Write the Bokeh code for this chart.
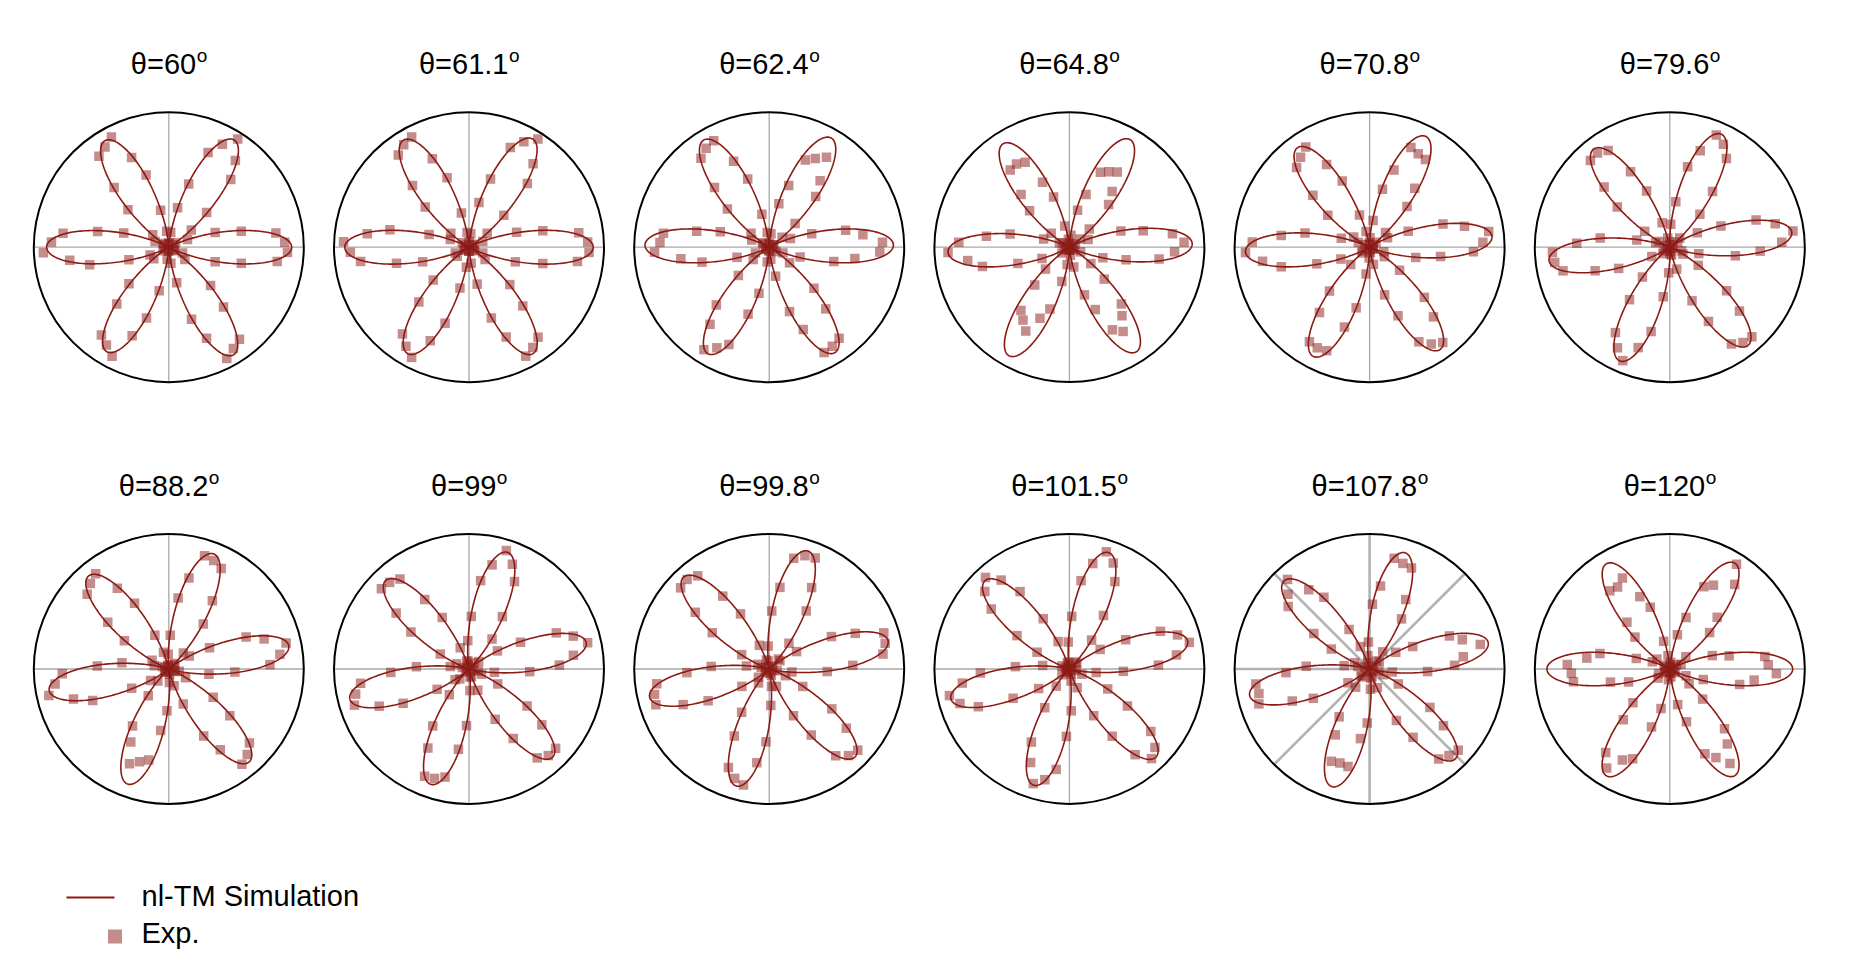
import numpy as np
from bokeh.plotting import figure
from bokeh.models import Range1d
from bokeh.core.properties import value
from bokeh.embed import file_html
from bokeh.resources import INLINE

# ---------------- data ----------------
theta_labels = ["60", "61.1", "62.4", "64.8", "70.8", "79.6",
                "88.2", "99", "99.8", "101.5", "107.8", "120"]

# simulation: orientation (deg) and peak intensity (relative) of the six lobes
sim_lobe_angles = [
    [0, 58.6, 121, 180, 239.3, 301],
    [0, 59.5, 121.5, 180, 240, 301],
    [1, 60.4, 121.5, 179, 240, 302],
    [1.6, 60.6, 122.7, 182.3, 240.9, 302.7],
    [5, 63, 126, 182, 242.7, 304.5],
    [7, 65.5, 127.9, 186.3, 246.2, 308.5],
    [11, 68.6, 130.8, 190.2, 250.3, 310.8],
    [12.8, 71.7, 133.3, 194.2, 251.6, 313.4],
    [13.4, 71.8, 133, 193.3, 254.3, 314.2],
    [13.4, 71.3, 133.8, 194.2, 253, 314.4],
    [12.6, 73, 134.2, 192.5, 252.2, 313.6],
    [0, 58.4, 121.1, 180, 239.3, 301.4],
]
sim_lobe_peaks = [
    [0.91, 0.93, 0.92, 0.905, 0.90, 0.93],
    [0.92, 0.93, 0.93, 0.92, 0.91, 0.92],
    [0.92, 0.93, 0.93, 0.92, 0.91, 0.92],
    [0.91, 0.915, 0.91, 0.90, 0.92, 0.92],
    [0.91, 0.92, 0.91, 0.92, 0.91, 0.92],
    [0.91, 0.92, 0.92, 0.90, 0.92, 0.93],
    [0.905, 0.915, 0.91, 0.90, 0.905, 0.91],
    [0.89, 0.91, 0.90, 0.91, 0.90, 0.90],
    [0.905, 0.92, 0.93, 0.91, 0.90, 0.91],
    [0.90, 0.91, 0.905, 0.905, 0.90, 0.915],
    [0.90, 0.90, 0.91, 0.91, 0.915, 0.92],
    [0.91, 0.92, 0.91, 0.91, 0.92, 0.925],
]

# experiment: polarization angles (deg) and measured intensities
exp_angles = [2.5 + 5 * k for k in range(72)]

exp_60 = [0.86, 0.80, 0.55, 0.36, 0.15, 0.04,
          0.06, 0.21, 0.38, 0.68, 0.81, 0.95, 0.86, 0.76, 0.49, 0.30, 0.11, 0.03,
          0.03, 0.12, 0.28, 0.56, 0.72, 0.92, 0.88, 0.85, 0.60, 0.41, 0.15, 0.05,
          0.04, 0.11, 0.35, 0.54, 0.79, 0.87, 0.93, 0.74, 0.60, 0.31, 0.15, 0.03,
          0.05, 0.14, 0.40, 0.57, 0.82, 0.86, 0.91, 0.71, 0.55, 0.33, 0.09, 0.03,
          0.02, 0.12, 0.27, 0.56, 0.73, 0.93, 0.89, 0.86, 0.60, 0.42, 0.15, 0.05,
          0.04, 0.11, 0.36, 0.55, 0.81, 0.88]
exp_61_1 = [0.88, 0.82, 0.56, 0.37, 0.11, 0.03,
            0.04, 0.17, 0.35, 0.64, 0.78, 0.95, 0.88, 0.80, 0.53, 0.34, 0.10, 0.04,
            0.02, 0.11, 0.26, 0.54, 0.71, 0.92, 0.90, 0.86, 0.62, 0.44, 0.17, 0.06,
            0.03, 0.15, 0.31, 0.60, 0.76, 0.93, 0.88, 0.81, 0.55, 0.36, 0.11, 0.04,
            0.04, 0.11, 0.36, 0.55, 0.81, 0.87, 0.92, 0.75, 0.59, 0.31, 0.15, 0.03,
            0.03, 0.12, 0.28, 0.55, 0.72, 0.91, 0.88, 0.84, 0.59, 0.41, 0.15, 0.05,
            0.04, 0.11, 0.36, 0.56, 0.81, 0.89]
exp_62_4 = [0.84, 0.70, 0.58, 0.33, 0.17, 0.04,
            0.03, 0.12, 0.26, 0.51, 0.62, 0.79, 0.74, 0.70, 0.48, 0.33, 0.10, 0.03,
            0.02, 0.11, 0.25, 0.53, 0.69, 0.89, 0.87, 0.83, 0.60, 0.42, 0.17, 0.06,
            0.05, 0.14, 0.38, 0.55, 0.79, 0.81, 0.85, 0.66, 0.51, 0.25, 0.11, 0.03,
            0.03, 0.15, 0.31, 0.58, 0.72, 0.90, 0.84, 0.78, 0.52, 0.35, 0.11, 0.03,
            0.02, 0.09, 0.22, 0.50, 0.66, 0.88, 0.87, 0.85, 0.62, 0.45, 0.19, 0.06,
            0.03, 0.11, 0.24, 0.49, 0.64, 0.82]
exp_64_8 = [0.85, 0.77, 0.56, 0.40, 0.15, 0.05,
            0.03, 0.10, 0.20, 0.43, 0.52, 0.66, 0.63, 0.60, 0.41, 0.28, 0.09, 0.03,
            0.02,
            0.06, 0.16, 0.39, 0.52, 0.71, 0.73, 0.72, 0.53, 0.40, 0.17, 0.06,
            0.02, 0.08, 0.20, 0.45, 0.62, 0.82, 0.90, 0.76, 0.66, 0.40, 0.22, 0.04,
            0.03, 0.07, 0.24, 0.38, 0.59, 0.64, 0.70, 0.57, 0.48, 0.26, 0.13, 0.02,
            0.02, 0.06, 0.15, 0.37, 0.50, 0.69, 0.74, 0.64, 0.57, 0.35, 0.20, 0.04,
            0.02, 0.09, 0.26, 0.43, 0.67, 0.78]
exp_70_8 = [0.84, 0.89, 0.72, 0.57, 0.31, 0.15, 0.03,
            0.06, 0.16, 0.41, 0.55, 0.77, 0.78, 0.80, 0.60, 0.44, 0.20, 0.07, 0.02,
            0.03, 0.12, 0.25, 0.53, 0.69, 0.88, 0.84, 0.80, 0.57, 0.39, 0.14, 0.04,
            0.09, 0.22, 0.49, 0.66, 0.87, 0.92, 0.80, 0.67, 0.41, 0.23, 0.06,
            0.02,
            0.07, 0.19, 0.44, 0.61, 0.83, 0.84, 0.83, 0.62, 0.46, 0.20, 0.08, 0.02,
            0.04, 0.13, 0.37, 0.55, 0.79, 0.85, 0.89, 0.70, 0.55, 0.28, 0.13, 0.03,
            0.03, 0.11, 0.35, 0.53, 0.77]
exp_79_6 = [0.83, 0.92, 0.80, 0.67, 0.41, 0.23, 0.07,
            0.03, 0.10, 0.33, 0.52, 0.78, 0.86, 0.90, 0.75, 0.61, 0.34, 0.17, 0.04,
            0.02,
            0.07, 0.19, 0.45, 0.63, 0.85, 0.88, 0.87, 0.66, 0.49, 0.22, 0.09,
            0.03,
            0.11, 0.25, 0.52, 0.69, 0.87, 0.86, 0.81, 0.58, 0.41, 0.15, 0.05,
            0.02,
            0.07, 0.30, 0.49, 0.75, 0.84, 0.91, 0.78, 0.64, 0.37, 0.19, 0.05,
            0.03,
            0.06, 0.17, 0.43, 0.62, 0.85, 0.89, 0.90, 0.70, 0.53, 0.25, 0.11,
            0.02, 0.09, 0.22, 0.49, 0.67]
exp_88_2 = [0.75, 0.83, 0.89, 0.74, 0.62, 0.34, 0.18, 0.05,
            0.06, 0.16, 0.42, 0.60, 0.84, 0.87, 0.88, 0.69, 0.53, 0.25, 0.11, 0.02,
            0.03, 0.13, 0.27, 0.55, 0.71, 0.89, 0.86, 0.82, 0.57, 0.39, 0.14, 0.05,
            0.03, 0.11, 0.35, 0.53, 0.79, 0.85, 0.91, 0.74, 0.61, 0.31, 0.16, 0.04,
            0.03, 0.12, 0.25, 0.50, 0.61, 0.76, 0.72, 0.69, 0.46, 0.31, 0.10, 0.04,
            0.02, 0.13, 0.28, 0.56, 0.71, 0.89, 0.86, 0.81, 0.57, 0.39, 0.14, 0.05,
            0.03, 0.08, 0.30, 0.49]
exp_99 = [0.67, 0.78, 0.90, 0.81, 0.70, 0.43, 0.25, 0.09, 0.02,
          0.06, 0.28, 0.46, 0.73, 0.84, 0.92, 0.79, 0.66, 0.39, 0.21, 0.06,
          0.03,
          0.06, 0.17, 0.43, 0.61, 0.84, 0.87, 0.88, 0.68, 0.51, 0.24, 0.10,
          0.02,
          0.05, 0.14, 0.39, 0.58, 0.81, 0.86, 0.89, 0.72, 0.55, 0.28, 0.13, 0.03,
          0.10, 0.24, 0.50, 0.66, 0.86, 0.85, 0.82, 0.60, 0.42, 0.16, 0.06,
          0.02,
          0.06, 0.17, 0.42, 0.61, 0.83, 0.87, 0.87, 0.68, 0.51, 0.24, 0.10,
          0.03,
          0.07, 0.19, 0.45]
exp_99_8 = [0.62, 0.85, 0.88, 0.89, 0.69, 0.52, 0.24, 0.10, 0.03,
            0.10, 0.24, 0.51, 0.68, 0.89, 0.88, 0.84, 0.61, 0.43, 0.17, 0.06,
            0.02,
            0.07, 0.19, 0.46, 0.64, 0.87, 0.90, 0.89, 0.69, 0.50, 0.23, 0.09,
            0.03,
            0.06, 0.17, 0.43, 0.61, 0.84, 0.87, 0.88, 0.69, 0.51, 0.24, 0.10, 0.02,
            0.04, 0.13, 0.38, 0.56, 0.79, 0.85, 0.88, 0.70, 0.54, 0.27, 0.13, 0.03,
            0.05, 0.14, 0.39, 0.58, 0.81, 0.87, 0.89, 0.72, 0.55, 0.28, 0.13, 0.03,
            0.06, 0.17, 0.43]
exp_101_5 = [0.66, 0.80, 0.91, 0.84, 0.73, 0.47, 0.27, 0.07, 0.02,
             0.07, 0.27, 0.47, 0.73, 0.85, 0.91, 0.80, 0.66, 0.39, 0.20, 0.05,
             0.03,
             0.05, 0.22, 0.42, 0.68, 0.83, 0.92, 0.85, 0.73, 0.46, 0.27, 0.06,
             0.02,
             0.03, 0.20, 0.40, 0.66, 0.80, 0.91, 0.85, 0.73, 0.47, 0.27, 0.07, 0.03,
             0.03, 0.16, 0.34, 0.61, 0.75, 0.89, 0.84, 0.75, 0.50, 0.31, 0.09, 0.02,
             0.04, 0.15, 0.39, 0.59, 0.80, 0.90, 0.86, 0.76, 0.51, 0.32, 0.10, 0.02,
             0.05, 0.20, 0.40]
exp_107_8 = [0.63, 0.70, 0.84, 0.72, 0.64, 0.36, 0.23, 0.09, 0.03,
             0.08, 0.16, 0.44, 0.58, 0.81, 0.82, 0.84, 0.62, 0.48, 0.20, 0.10, 0.03,
             0.05, 0.18, 0.33, 0.63, 0.74, 0.90, 0.82, 0.76, 0.49, 0.32, 0.12, 0.04,
             0.09, 0.19, 0.47, 0.62, 0.85, 0.84, 0.86, 0.62, 0.47, 0.19, 0.08,
             0.03,
             0.08, 0.17, 0.42, 0.55, 0.74, 0.73, 0.74, 0.52, 0.40, 0.15, 0.07,
             0.02,
             0.06, 0.15, 0.43, 0.60, 0.84, 0.87, 0.89, 0.69, 0.53, 0.24, 0.11, 0.03,
             0.07, 0.17, 0.43]
exp_120 = [0.73, 0.71, 0.45, 0.33, 0.09, 0.03,
           0.06, 0.15, 0.40, 0.52, 0.79, 0.92, 0.70, 0.66, 0.40, 0.26, 0.05, 0.02,
           0.03, 0.10, 0.21, 0.48, 0.58, 0.76, 0.72, 0.73, 0.47, 0.35, 0.12, 0.05,
           0.03, 0.14, 0.26, 0.53, 0.62, 0.76, 0.73, 0.72, 0.45, 0.32, 0.09, 0.04,
           0.04, 0.11, 0.37, 0.51, 0.78, 0.87, 0.76, 0.72, 0.45, 0.30, 0.08, 0.02,
           0.03, 0.06, 0.27, 0.41, 0.68, 0.74, 0.83, 0.70, 0.60, 0.33, 0.18, 0.05,
           0.03, 0.13, 0.26, 0.53, 0.63, 0.79]

exp_series = [exp_60, exp_61_1, exp_62_4, exp_64_8, exp_70_8, exp_79_6,
              exp_88_2, exp_99, exp_99_8, exp_101_5, exp_107_8, exp_120]

legend_labels = ["nl-TM Simulation", "Exp."]

# ---------------- layout / style ----------------
W, H = 1846, 960
R = 135.0
COL_X = [168.3 + 300.2 * c for c in range(6)]
ROW_Y = [246.7, 668.5]
LINE_COLOR = "#8b1a12"
MARK_COLOR = "#8b1a1a"
FONT = "Liberation Sans"
TEXT_SHIFT = 9.0  # compensates baseline placement of svg text

p = figure(width=W, height=H, x_range=Range1d(0, W), y_range=Range1d(H, 0),
           x_axis_type=None, y_axis_type=None, toolbar_location=None,
           output_backend="svg", min_border=0, outline_line_color=None,
           background_fill_color="white", border_fill_color="white")
p.grid.visible = False

CHAR_W = {"θ": 0.556, "=": 0.584, ".": 0.278}
def text_width(s, size):
    return sum(CHAR_W.get(ch, 0.556) for ch in s) * size

t = np.linspace(-30.0, 30.0, 181)

for i in range(12):
    cx = COL_X[i % 6]
    cy = ROW_Y[i // 6]
    special = (i == 10)

    # polar grid lines
    if special:
        gx, gy = [], []
        for a in (0, 45, 90, 135):
            ar = np.radians(a)
            gx.append([cx - R * np.cos(ar), cx + R * np.cos(ar)])
            gy.append([cy + R * np.sin(ar), cy - R * np.sin(ar)])
        p.multi_line(gx, gy, line_color="#b3b3b3", line_width=2.6)
    else:
        p.multi_line([[cx - R, cx + R], [cx, cx]], [[cy, cy], [cy - R, cy + R]],
                     line_color="#a8a8a8", line_width=1.3)

    # outer circle
    p.circle(x=[cx], y=[cy], radius=R, fill_color=None, line_color="black",
             line_width=2)

    # experimental points
    ang = np.radians(np.array(exp_angles))
    rr = np.array(exp_series[i])
    p.scatter(cx + R * rr * np.cos(ang), cy - R * rr * np.sin(ang),
              marker="square", size=9.5, fill_color=MARK_COLOR, fill_alpha=0.5,
              line_color=None)

    # simulation curve
    xs, ys = [], []
    for a0, L in zip(sim_lobe_angles[i], sim_lobe_peaks[i]):
        phi = np.radians(a0 + t)
        r = L * np.cos(np.radians(3 * t)) ** 2
        xs.extend(list(cx + R * r * np.cos(phi)))
        ys.extend(list(cy - R * r * np.sin(phi)))
    p.line(xs, ys, line_color=LINE_COLOR, line_width=1.6)

    # title  θ=NN + superscript o
    main = "θ=" + theta_labels[i]
    fs, fs_sup = 29, 19
    wm = text_width(main, fs)
    ws = 0.556 * fs_sup
    left = cx - (wm + ws) / 2.0
    base = cy - 174.0 - TEXT_SHIFT
    p.text(x=[left], y=[base], text=[main], text_font=value(FONT),
           text_font_size=f"{fs}px", text_align="left",
           text_baseline="alphabetic", text_color="black")
    p.text(x=[left + wm + 0.5], y=[base - 9.0], text=["o"], text_font=value(FONT),
           text_font_size=f"{fs_sup}px", text_align="left",
           text_baseline="alphabetic", text_color="black")

# legend
p.line([66, 114], [897, 897], line_color=LINE_COLOR, line_width=2)
p.scatter([114.5], [936], marker="square", size=14,
          fill_color=MARK_COLOR, fill_alpha=0.5, line_color=None)
p.text(x=[141, 141], y=[904 - TEXT_SHIFT, 941 - TEXT_SHIFT], text=legend_labels,
       text_font=value(FONT), text_font_size="29px", text_align="left",
       text_baseline="alphabetic", text_color="black")

open("out.html", "w").write(file_html(p, INLINE))
